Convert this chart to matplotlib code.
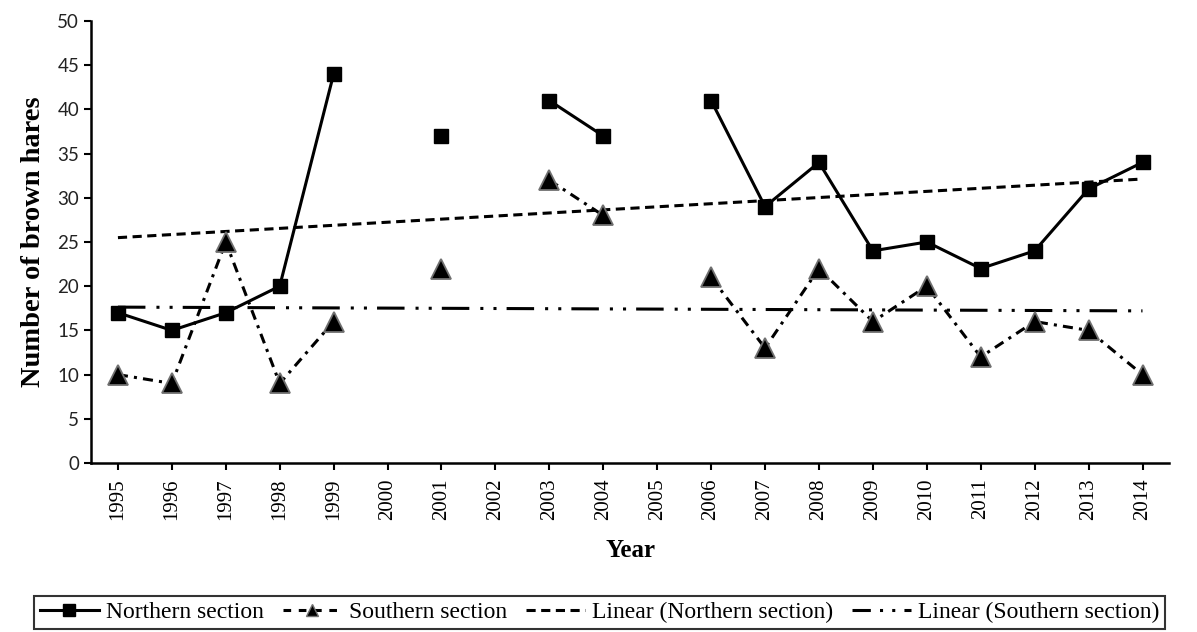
import numpy as np
import matplotlib
matplotlib.use("Agg")
import matplotlib.pyplot as plt
from matplotlib.lines import Line2D

years = [1995, 1996, 1997, 1998, 1999, 2000, 2001, 2002, 2003, 2004,
         2005, 2006, 2007, 2008, 2009, 2010, 2011, 2012, 2013, 2014]
northern = [17, 15, 17, 20, 44, np.nan, 37, np.nan, 41, 37,
            np.nan, 41, 29, 34, 24, 25, 22, 24, 31, 34]
southern = [10, 9, 25, 9, 16, np.nan, 22, np.nan, 32, 28,
            np.nan, 21, 13, 22, 16, 20, 12, 16, 15, 10]

serif = "Liberation Serif"
x = np.arange(len(years))
n = np.array(northern, dtype=float)
s = np.array(southern, dtype=float)

fig = plt.figure(figsize=(11.97, 6.32), dpi=100)
ax = fig.add_axes([0.076, 0.2674, 0.901, 0.6994])

S_DASH = (3.3, 2.0, 1.0, 2.0)
N_TREND = (3.0, 1.8)
S_TREND = (9, 3.6, 1, 3.3, 1, 3.3)

ax.plot(x, n, color="black", lw=2.2, marker="s", ms=10,
        mfc="black", mec="black", zorder=4)
ax.plot(x, s, color="black", lw=2.2, dashes=S_DASH,
        marker="^", ms=14, mfc="black", mec="#707070", mew=1.3, zorder=3)

mn = ~np.isnan(n)
cn = np.polyfit(x[mn], n[mn], 1)
ms_ = ~np.isnan(s)
cs = np.polyfit(x[ms_], s[ms_], 1)
ax.plot(x, np.polyval(cn, x), color="black", lw=2.2, dashes=N_TREND, zorder=2)
ax.plot(x, np.polyval(cs, x), color="black", lw=2.2, dashes=S_TREND, zorder=2)

ax.set_xlim(-0.5, len(years) - 0.5)
ax.set_ylim(0, 50)
ax.set_yticks(np.arange(0, 51, 5))
ax.set_xticks(x)
ax.set_xticklabels([str(y) for y in years], rotation=90, fontfamily=serif, fontsize=15)
for lab in ax.get_yticklabels():
    lab.set_fontfamily("Lato")
    lab.set_fontsize(13.5)
    lab.set_color("#222222")
ax.tick_params(axis="both", direction="out", length=5, width=1.5, color="black")
ax.tick_params(axis="x", pad=6)
for sp in ["top", "right"]:
    ax.spines[sp].set_visible(False)
for sp in ["left", "bottom"]:
    ax.spines[sp].set_linewidth(1.8)

ax.set_ylabel("Number of brown hares", fontfamily=serif, fontweight="bold", fontsize=20.5, labelpad=8)
ax.set_xlabel("Year", fontfamily=serif, fontweight="bold", fontsize=18, labelpad=14)

handles = [
    Line2D([], [], color="black", lw=2.2, marker="s", ms=8),
    Line2D([], [], color="black", lw=2.2, dashes=(2.5, 2.5), marker="^", ms=9, mec="#707070"),
    Line2D([], [], color="black", lw=2.2, dashes=N_TREND),
    Line2D([], [], color="black", lw=2.2, dashes=(6, 3, 1, 3, 1, 3)),
]
labels = ["Northern section", "Southern section", "Linear (Northern section)", "Linear (Southern section)"]
leg = fig.legend(handles, labels, loc="center", bbox_to_anchor=(0.501, 0.031), ncol=4,
                 frameon=True, fancybox=False, edgecolor="black", handlelength=2.5,
                 handletextpad=0.3, columnspacing=0.8, borderpad=0.25, borderaxespad=0,
                 prop={"family": serif, "size": 17})
leg.get_frame().set_linewidth(1.5)

fig.savefig("out.png", dpi=100)
